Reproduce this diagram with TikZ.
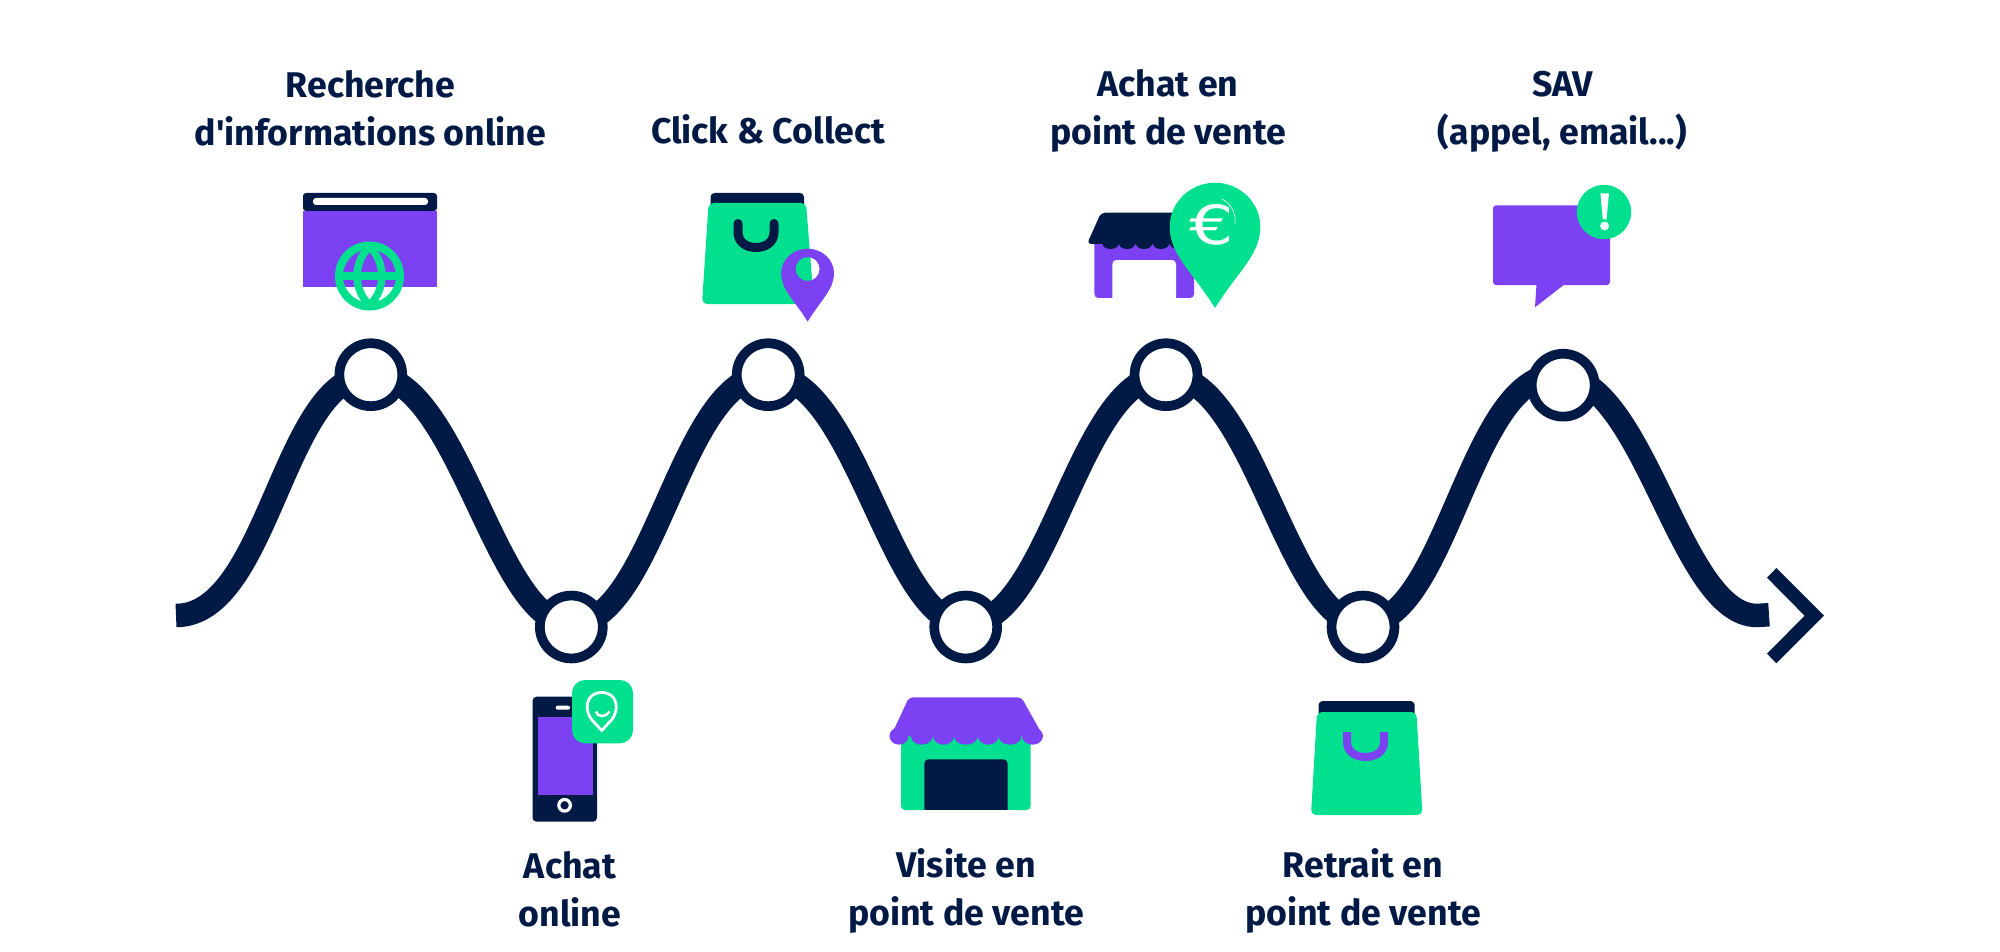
\documentclass[tikz,border=0pt]{standalone}
\usepackage{fontspec}
\setmainfont{Fira Sans}
\newfontfamily\eurofont{DejaVu Sans}
\definecolor{navy}{HTML}{001A45}
\definecolor{violet}{HTML}{7C41F2}
\definecolor{mint}{HTML}{00E08F}
\newcommand{\pinshape}[5]{(#1,#4) .. controls ({#1-0.5*#5},{#4-0.45*(#4-#3)}) and ({#1-#5},{#3+0.35*(#4-#3)}) .. ({#1-#5},#3) .. controls ({#1-#5},{#3-0.55*(#3-#2)}) and ({#1-0.55*#5},#2) .. (#1,#2) .. controls ({#1+0.55*#5},#2) and ({#1+#5},{#3-0.55*(#3-#2)}) .. ({#1+#5},#3) .. controls ({#1+#5},{#3+0.35*(#4-#3)}) and ({#1+0.5*#5},{#4-0.45*(#4-#3)}) .. (#1,#4) -- cycle}
\tikzset{
  stop/.style={circle,draw=navy,fill=white,line width=9.7pt,minimum size=62.9pt,inner sep=0pt},
  label/.style={font=\fontsize{35.7}{48}\selectfont\bfseries,text=navy,align=center,inner sep=0pt},
  road/.style={draw=navy,line width=23.5pt},
  ink/.style={fill=navy},
  vio/.style={fill=violet},
  grn/.style={fill=mint},
  wht/.style={fill=white},
}
\begin{document}
\begin{tikzpicture}[x=1pt,y=-1pt]
\useasboundingbox (0,0) rectangle (2000,952);
% curve
\coordinate (s) at (176,615.5);
\coordinate (a1) at (371,375);
\coordinate (b1) at (571,624);
\coordinate (a2) at (768,375);
\coordinate (b2) at (966,624);
\coordinate (a3) at (1166,375);
\coordinate (b3) at (1363,624);
\coordinate (a4) at (1557,375);
\coordinate (b4) at (1757,615.5);
\coordinate (e) at (1769,614.7);
\draw[road] (s) .. controls +(93,0) and +(-88,0) .. (a1)
 .. controls +(88,0) and +(-76,0) .. (b1)
 .. controls +(84,0) and +(-88,0) .. (a2)
 .. controls +(88,0) and +(-76,0) .. (b2)
 .. controls +(84,0) and +(-88,0) .. (a3)
 .. controls +(88,0) and +(-76,0) .. (b3)
 .. controls +(84,0) and +(-88,0) .. (a4)
 .. controls +(88,0) and +(-78,0) .. (b4)
 -- (e);
\node[stop] (n1) at (370.8,374.7) {};
\node[stop] (n2) at (571.3,627) {};
\node[stop] (n3) at (768.2,374.7) {};
\node[stop] (n4) at (965.7,627) {};
\node[stop] (n5) at (1166,374.7) {};
\node[stop] (n6) at (1363,627) {};
\node[stop] (n7) at (1563.2,385.2) {};
% end chevron
\fill[ink] (1776.4,568) -- (1824,615.7) -- (1776.4,663.3) -- (1767,653.7) -- (1804.6,615.7) -- (1767,577.7) -- cycle;
% labels
\node[label] (l1) at (370.5,108.5) {Recherche\hspace{12pt}\\d\textquotesingle informations online};
\node[label] (l2) at (768,129.5) {Click \& Collect};
\node[label] (l3) at (1168,111) {Achat en\\point de vente};
\node[label] (l4) at (1562.5,111.5) {SAV\\(appel, email...)};
\node[label] (l5) at (570,889) {Achat\\online};
\node[label] (l6) at (966,891) {Visite en\\point de vente};
\node[label] (l7) at (1363,891) {Retrait en\\point de vente};
% browser icon
\fill[ink,rounded corners=3pt] (303,211) -- (303,193) -- (437,193) -- (437,211) -- cycle;
\fill[vio] (303,211) rectangle (437,287);
\fill[wht,rounded corners=3pt] (313,198) rectangle (428,205);
\begin{scope}[draw=mint,line width=8pt]
\draw (369.5,276) circle (30.5);
\draw (338,276) -- (401,276);
\draw[line width=7.5pt] (369.5,247) .. controls (353,262) and (353,290) .. (369.5,305) .. controls (386,290) and (386,262) .. (369.5,247) -- cycle;
\end{scope}
% bag 1
\fill[ink,rounded corners=4pt] (710.5,210) -- (710.5,193) -- (804,193) -- (804,210) -- cycle;
\fill[grn,rounded corners=5pt] (708.6,203) -- (806,203) -- (814,304) -- (702,304) -- cycle;
\draw[navy,line width=9pt,line cap=round] (738,223.5) -- (738,232) .. controls (738,242) and (746,247.5) .. (756,247.5) .. controls (766,247.5) and (774,242) .. (774,232) -- (774,223.5);
\fill[vio,even odd rule] \pinshape{807.6}{248.7}{273}{321.7}{26.4} (807.6,269) circle (12);
% stall + euro pin
\fill[vio,rounded corners=4pt] (1094.4,240) -- (1194,240) -- (1194,298) -- (1094.4,298) -- cycle;
\fill[wht,rounded corners=4pt] (1112.4,310) -- (1112.4,260) -- (1176,260) -- (1176,310) -- cycle;
\fill[wht] (1090,298) rectangle (1200,312);
\fill[ink,rounded corners=4pt] (1087,244) -- (1101,212.7) -- (1187,212.7) -- (1201,244) -- cycle;
\foreach \cx in {1110.5,1127,1144,1161,1178}{\fill[ink] (\cx,243) ellipse (8.3 and 6);}
\fill[grn] \pinshape{1215}{182.7}{226.7}{308}{45.3};
\node[font=\fontsize{54}{54}\selectfont\eurofont,text=white,inner sep=0pt] (euro) at (1211.7,224.5) {\scalebox{1.3}[1]{€}};
\draw[white,line width=0.6pt] (1222,199) .. controls (1232,204) and (1236,214) .. (1235,224);
% speech bubble
\fill[vio,rounded corners=3pt] (1493,205.3) -- (1610,205.3) -- (1610,285) -- (1493,285) -- cycle;
\fill[vio] (1536.5,284) -- (1535,307.3) -- (1565,284) -- cycle;
\fill[grn] (1604,212) circle (27.2);
\fill[wht] (1600.4,193.3) -- (1609,193.3) -- (1606.5,219.3) -- (1602.8,219.3) -- cycle;
\fill[wht] (1604.6,226) circle (4.4);
% phone
\fill[ink,rounded corners=4pt] (532.5,696.7) rectangle (597,821.7);
\fill[vio] (537.5,716.7) rectangle (593,795.3);
\fill[wht,rounded corners=2pt] (555.7,705.7) rectangle (570,709.7);
\draw[white,line width=3.2pt] (564.6,805.3) circle (5.8);
\fill[grn,rounded corners=13pt] (572,680) rectangle (633,743.3);
\draw[white,line width=2.8pt,line join=round] (601.7,730.5) -- (592,720) .. controls (584,711) and (585,692.5) .. (601.7,692.5) .. controls (618.4,692.5) and (619.4,711) .. (611.4,720) -- cycle;
\draw[white,line width=2.6pt] (596,711.5) .. controls (597,717.5) and (606.4,717.5) .. (609.6,711.5);
% store
\fill[grn,rounded corners=4pt] (901,735) rectangle (1030.7,810);
\fill[ink,rounded corners=4pt] (924.3,820) -- (924.3,759.3) -- (1007.5,759.3) -- (1007.5,820) -- cycle;
\fill[wht] (915,810) rectangle (1015,822);
\fill[vio,rounded corners=4pt] (891,736) -- (909,697.3) -- (1021.4,697.3) -- (1043,736) -- cycle;
\foreach \a/\b in {899/9.5,921.8/11,943.5/10.5,966/12,988.3/10.3,1010/11.5,1032.5/10.5}{\fill[vio] (\a,736) ellipse (\b pt and 8.7pt);}
% bag 2
\fill[ink,rounded corners=4pt] (1318.6,720) -- (1318.6,701) -- (1414.6,701) -- (1414.6,720) -- cycle;
\fill[grn,rounded corners=5pt] (1317,712) -- (1416.4,712) -- (1422.5,815) -- (1311,815) -- cycle;
\draw[violet,line width=8pt] (1347,732) -- (1347,742) .. controls (1347,752) and (1356,757) .. (1365.5,757) .. controls (1375,757) and (1384,752) .. (1384,742) -- (1384,732);
\end{tikzpicture}
\end{document}
